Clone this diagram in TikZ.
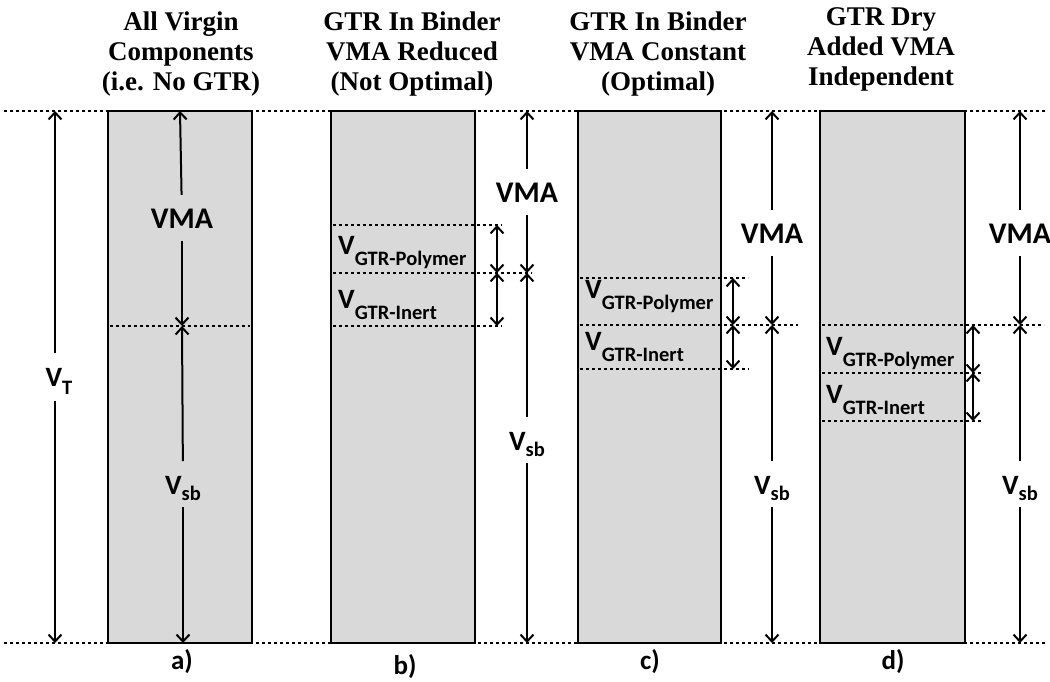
\documentclass[tikz,border=0pt]{standalone}
\usepackage{fontspec}
\setmainfont{Liberation Serif}
\newfontfamily\calfont{Carlito}
\usetikzlibrary{arrows.meta}
\definecolor{boxgray}{HTML}{D9D9D9}
\newcommand{\Vs}[2][6pt]{{\fontsize{28}{28}\selectfont V}\raisebox{-#1}{\fontsize{20.5}{20.5}\selectfont #2}}
\begin{document}
\begin{tikzpicture}[x=1pt,y=-1pt,
  box/.style={fill=boxgray,draw=black,line width=1.6pt},
  dots/.style={line width=2.6pt,dash pattern=on 2.6pt off 3.4pt},
  arr/.style={line width=2pt,-{Straight Barb[length=7pt,width=13pt]}},
  darr/.style={line width=2pt,{Straight Barb[length=7pt,width=13pt]}-{Straight Barb[length=7pt,width=13pt]}},
  vma/.style={font={\calfont\bfseries\fontsize{30}{30}\selectfont},inner xsep=0pt,inner ysep=13pt,text height=20pt,text depth=0pt},
  vl/.style={font={\calfont\bfseries},inner xsep=0pt,inner ysep=6pt,text height=27pt},
  gl/.style={font={\calfont\bfseries},anchor=base west,inner sep=0pt},
  title/.style={anchor=north,align=center,inner sep=0pt,font={\bfseries\fontsize{27}{30}\selectfont}},
  sub/.style={font={\calfont\bfseries\fontsize{27}{27}\selectfont},inner sep=0pt}
]
\useasboundingbox (0,0) rectangle (1050,681);

% titles
\node[title] (ta) at (181,12) {All Virgin\\Components\\(i.e. No GTR)};
\node[title] (tb) at (412,12) {GTR In Binder\\VMA Reduced\\(Not Optimal)};
\node[title] (tc) at (658,12) {GTR In Binder\\VMA Constant\\(Optimal)};
\node[title] (td) at (881,7) {GTR Dry\\Added VMA\\Independent};

% boxes
\draw[box] (108,111) rectangle (252,643);
\draw[box] (331,111) rectangle (475,643);
\draw[box] (578,111) rectangle (721,643);
\draw[box] (820,111) rectangle (965,643);

% dotted lines
\draw[dots] (4,111) -- (1046,111);
\draw[dots] (4,643) -- (1046,643);
\draw[dots] (110,326) -- (250,326);
\draw[dots] (333,225) -- (502,225);
\draw[dots] (333,273) -- (532,273);
\draw[dots] (333,326) -- (502,326);
\draw[dots] (580,278) -- (748,278);
\draw[dots] (580,325) -- (798,325);
\draw[dots] (580,369) -- (749,369);
\draw[dots] (822,325) -- (1044,325);
\draw[dots] (822,373) -- (982,373);
\draw[dots] (822,421) -- (982,421);

% panel a
\coordinate (vt-top) at (55,111);
\coordinate (vt-bot) at (55,643);
\node[vl] (vta) at (59,377) {\Vs[8pt]{T}};
\draw[arr] (vt-top |- vta.north) -- (vt-top);
\draw[arr] (vt-bot |- vta.south) -- (vt-bot);

\coordinate (a-top) at (180,111);
\coordinate (a-mid) at (182,326);
\coordinate (a-bot) at (183,643);
\node[vma] (vmaa) at (182,218) {VMA};
\node[vl] (vsba) at (183,484) {\Vs{sb}};
\draw[arr] (vmaa) -- (a-top);
\draw[arr] (vmaa) -- (a-mid);
\draw[arr] (vsba) -- (a-mid);
\draw[arr] (vsba) -- (a-bot);

% panel b
\coordinate (b1) at (497,225);
\coordinate (b2) at (497,273);
\coordinate (b3) at (497,326);
\draw[darr] (b1) -- (b2);
\draw[darr] (b2) -- (b3);
\node[gl] (gpb) at (338,254) {\Vs[11pt]{GTR-Polymer}};
\node[gl] (gib) at (338,308) {\Vs[11pt]{GTR-Inert}};
\coordinate (B-top) at (527,111);
\coordinate (B-mid) at (527,273);
\coordinate (B-bot) at (527,643);
\node[vma] (vmab) at (527,192) {VMA};
\node[vl] (vsbb) at (527,440) {\Vs{sb}};
\draw[arr] (vmab) -- (B-top);
\draw[arr] (vmab) -- (B-mid);
\draw[arr] (vsbb) -- (B-mid);
\draw[arr] (vsbb) -- (B-bot);

% panel c
\coordinate (c1) at (733,278);
\coordinate (c2) at (733,325);
\coordinate (c3) at (733,369);
\draw[darr] (c1) -- (c2);
\draw[darr] (c2) -- (c3);
\node[gl] (gpc) at (585,298) {\Vs[11pt]{GTR-Polymer}};
\node[gl] (gic) at (585,350) {\Vs[11pt]{GTR-Inert}};
\coordinate (C-top) at (772,111);
\coordinate (C-mid) at (772,325);
\coordinate (C-bot) at (772,643);
\node[vma] (vmac) at (772,233) {VMA};
\node[vl] (vsbc) at (772,484) {\Vs{sb}};
\draw[arr] (vmac) -- (C-top);
\draw[arr] (vmac) -- (C-mid);
\draw[arr] (vsbc) -- (C-mid);
\draw[arr] (vsbc) -- (C-bot);

% panel d
\coordinate (d1) at (973,325);
\coordinate (d2) at (973,373);
\coordinate (d3) at (973,421);
\draw[darr] (d1) -- (d2);
\draw[darr] (d2) -- (d3);
\node[gl] (gpd) at (826,355) {\Vs[11pt]{GTR-Polymer}};
\node[gl] (gid) at (826,403) {\Vs[11pt]{GTR-Inert}};
\coordinate (D-top) at (1020,111);
\coordinate (D-mid) at (1020,325);
\coordinate (D-bot) at (1020,643);
\node[vma] (vmad) at (1020,233) {VMA};
\node[vl] (vsbd) at (1020,484) {\Vs{sb}};
\draw[arr] (vmad) -- (D-top);
\draw[arr] (vmad) -- (D-mid);
\draw[arr] (vsbd) -- (D-mid);
\draw[arr] (vsbd) -- (D-bot);

% sub-figure labels
\node[sub] (la) at (182,662) {a)};
\node[sub] (lb) at (405,667) {b)};
\node[sub] (lc) at (650,662) {c)};
\node[sub] (ld) at (893,662) {d)};
\end{tikzpicture}
\end{document}
